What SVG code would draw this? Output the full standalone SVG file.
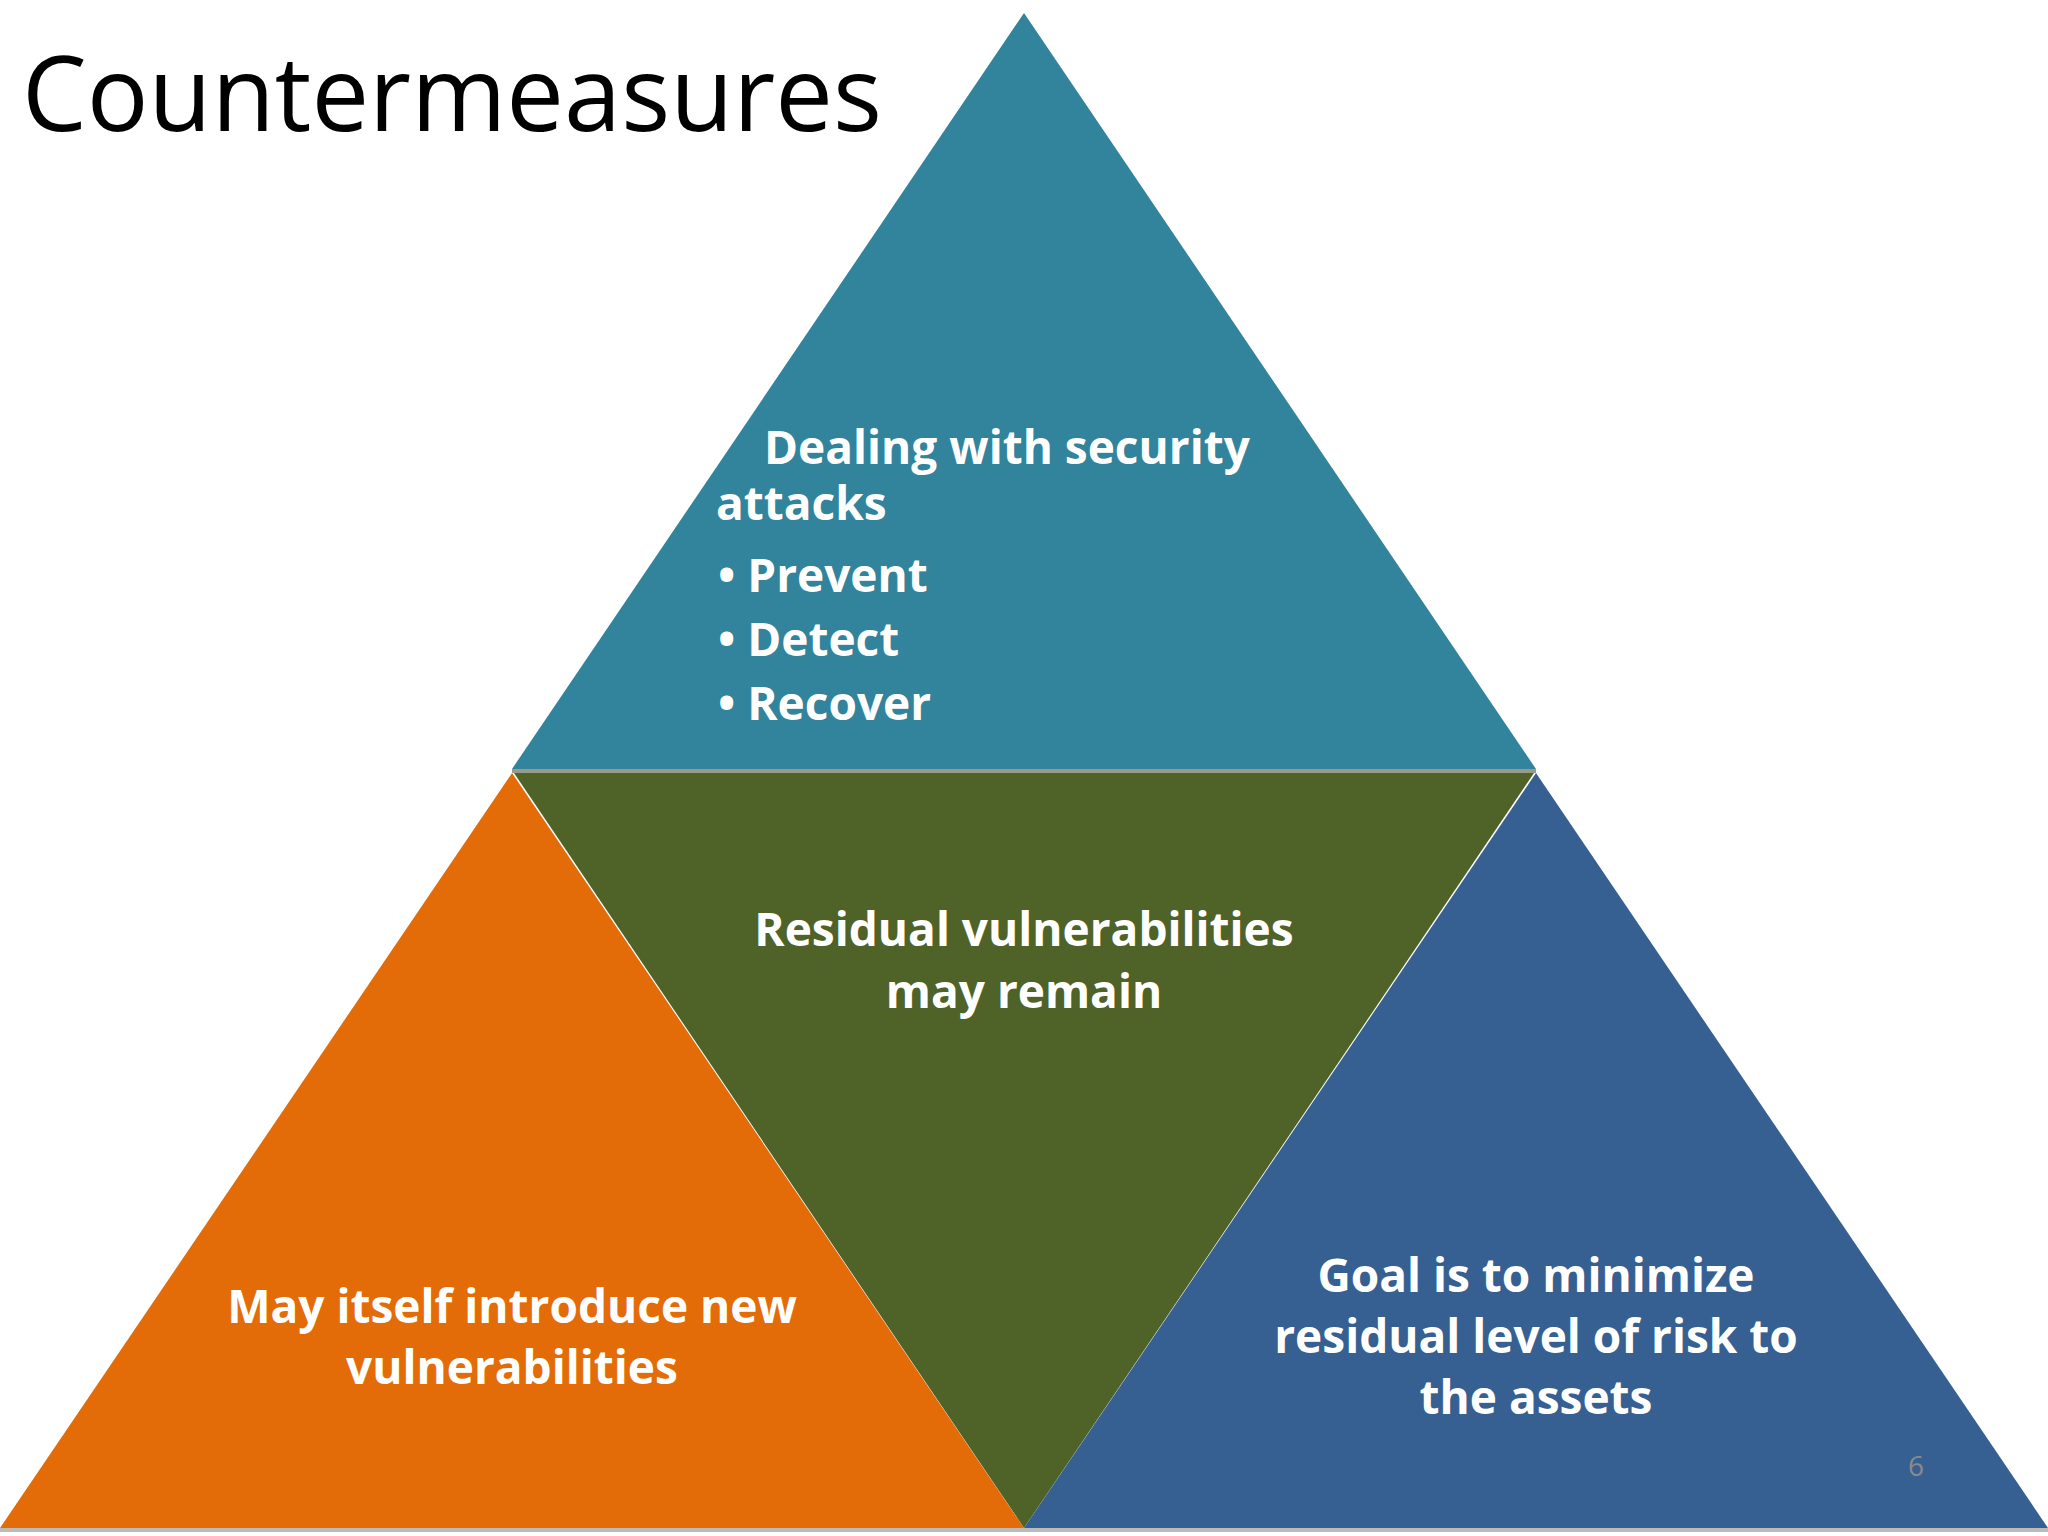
<svg xmlns="http://www.w3.org/2000/svg" width="2048" height="1536" viewBox="0 0 2048 1536">
<style>
.t{font-family:"Open Sans","Liberation Sans",sans-serif;font-weight:bold;fill:#fff;font-size:46px}
.c{text-anchor:middle}
</style>
<rect width="2048" height="1536" fill="#fff"/>
<text x="22" y="131" font-family="Open Sans, Liberation Sans, sans-serif" font-size="104" fill="#000" textLength="860" lengthAdjust="spacingAndGlyphs">Countermeasures</text>
<g id="top">
<polygon points="1024,13 1536,769 512,769" fill="#31849B"/>
<text class="t" x="764" y="464">Dealing with security</text>
<text class="t" x="716" y="520">attacks</text>
<text class="t" x="718" y="592">• Prevent</text>
<text class="t" x="718" y="656">• Detect</text>
<text class="t" x="718" y="720">• Recover</text>
</g>
<line x1="512" y1="771" x2="1536" y2="771" stroke="#9a9a8a" stroke-width="4"/>
<g id="middle">
<polygon points="514,773 1534,773 1024,1528" fill="#4F6228"/>
<text class="t c" x="1024" y="946">Residual vulnerabilities</text>
<text class="t c" x="1024" y="1008">may remain</text>
</g>
<g id="left">
<polygon points="512,773 1024,1528 0,1528" fill="#E36C09"/>
<text class="t c" x="512" y="1323">May itself introduce new</text>
<text class="t c" x="512" y="1384">vulnerabilities</text>
</g>
<g id="right">
<polygon points="1536,773 2048,1528 1024,1528" fill="#366092"/>
<text class="t c" x="1536" y="1292">Goal is to minimize</text>
<text class="t c" x="1536" y="1353">residual level of risk to</text>
<text class="t c" x="1536" y="1414">the assets</text>
</g>
<line x1="0" y1="1530" x2="2048" y2="1530" stroke="#bbb" stroke-width="4"/>
<text x="1916" y="1476" font-family="Open Sans, Liberation Sans, sans-serif" font-size="28" fill="#8a8a8a" text-anchor="middle">6</text>
</svg>
